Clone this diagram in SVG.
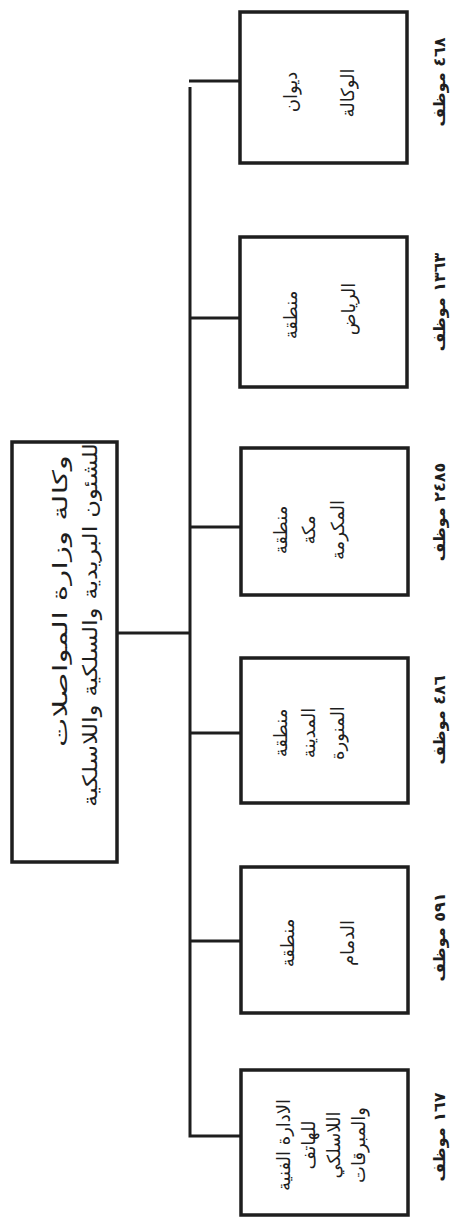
<svg xmlns="http://www.w3.org/2000/svg" width="451" height="1222" viewBox="0 0 451 1222">
<style>
.box{fill:none;stroke:#1e1e1e;stroke-width:3.5}
.ln{fill:none;stroke:#1e1e1e;stroke-width:3}
text{font-family:"DejaVu Sans","Noto Sans",sans-serif;fill:#1e1e1e;text-anchor:middle;dominant-baseline:central}
.t{font-size:18px}
.r{font-size:20px}
.lb{font-size:16px;font-weight:bold}
</style>
<rect width="451" height="1222" fill="#ffffff"/>
<g id="connectors">
<path class="ln" d="M190,87 V1136 H241"/>
<path class="ln" d="M189,81 H240"/>
<path class="ln" d="M190,318 H240"/>
<path class="ln" d="M190,527 H241"/>
<path class="ln" d="M117,633 H190"/>
<path class="ln" d="M190,733 H241"/>
<path class="ln" d="M190,941 H241"/>
</g>
<g id="root">
<rect class="box" x="12" y="442" width="105" height="420"/>
<text class="r" transform="translate(60,601) rotate(-90)" textLength="292" lengthAdjust="spacingAndGlyphs">وكالة وزارة المواصلات</text>
<text class="r" transform="translate(90,625) rotate(-90)" textLength="364" lengthAdjust="spacingAndGlyphs">للشئون البريدية والسلكية واللاسلكية</text>
</g>
<g id="n1">
<rect class="box" x="240" y="12" width="167" height="151"/>
<text class="t" transform="translate(290,92) rotate(-90)">ديوان</text>
<text class="t" transform="translate(347,93) rotate(-90)">الوكالة</text>
<text class="lb" transform="translate(439,82) rotate(-90)">٤٦٨ موظف</text>
</g>
<g id="n2">
<rect class="box" x="240" y="237" width="167" height="150"/>
<text class="t" transform="translate(290,315) rotate(-90)">منطقة</text>
<text class="t" transform="translate(348,309) rotate(-90)">الرياض</text>
<text class="lb" transform="translate(439,302) rotate(-90)">١٣٦٣ موظف</text>
</g>
<g id="n3">
<rect class="box" x="241" y="448" width="167" height="147"/>
<text class="t" transform="translate(280,530) rotate(-90)">منطقة</text>
<text class="t" transform="translate(308,530) rotate(-90)">مكة</text>
<text class="t" transform="translate(337,530) rotate(-90)">المكرمة</text>
<text class="lb" transform="translate(439,512) rotate(-90)">٢٤٨٥ موظف</text>
</g>
<g id="n4">
<rect class="box" x="241" y="658" width="167" height="145"/>
<text class="t" transform="translate(280,733) rotate(-90)">منطقة</text>
<text class="t" transform="translate(308,733) rotate(-90)">المدينة</text>
<text class="t" transform="translate(337,733) rotate(-90)">المنورة</text>
<text class="lb" transform="translate(439,720) rotate(-90)">٤٨٦ موظف</text>
</g>
<g id="n5">
<rect class="box" x="241" y="867" width="167" height="146"/>
<text class="t" transform="translate(287,943) rotate(-90)">منطقة</text>
<text class="t" transform="translate(347,943) rotate(-90)">الدمام</text>
<text class="lb" transform="translate(439,937) rotate(-90)">٥٩١ موظف</text>
</g>
<g id="n6">
<rect class="box" x="241" y="1070" width="167" height="145"/>
<text class="t" transform="translate(283,1145) rotate(-90)">الادارة الفنية</text>
<text class="t" transform="translate(308,1145) rotate(-90)">للهاتف</text>
<text class="t" transform="translate(333,1145) rotate(-90)">اللاسلكي</text>
<text class="t" transform="translate(358,1145) rotate(-90)">والمبرقات</text>
<text class="lb" transform="translate(439,1137) rotate(-90)">١٦٧ موظف</text>
</g>
</svg>
